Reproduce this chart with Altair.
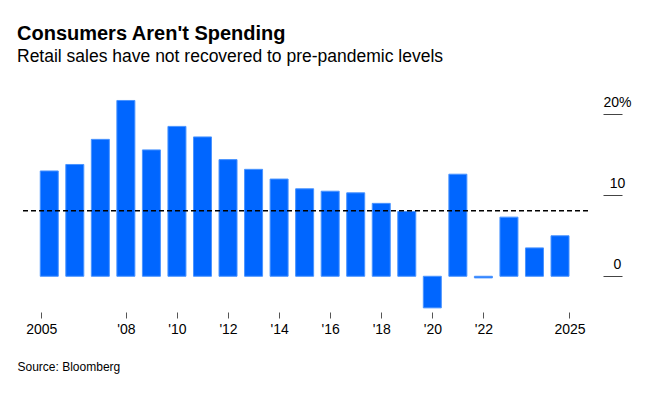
import altair as alt
import pandas as pd

years = list(range(2005, 2026))
values = [13.0, 13.8, 16.9, 21.7, 15.6, 18.5, 17.2, 14.4, 13.2, 12.0, 10.8,
          10.5, 10.3, 9.0, 8.0, -3.9, 12.6, -0.2, 7.3, 3.5, 5.0]
reference_level = [8.1]
x_tick_values = [2004.69, 2008, 2010, 2012, 2014, 2016, 2018, 2020, 2022, 2025.37]
y_tick_values = [0, 10, 20]

title_text = "Consumers Aren't Spending"
subtitle_text = "Retail sales have not recovered to pre-pandemic levels"
source_text = "Source: Bloomberg"

FONT = "Liberation Sans"

df = pd.DataFrame({"year": years, "value": values})
ref_df = pd.DataFrame({"level": reference_level})

x_enc = alt.X(
    "year:Q",
    scale=alt.Scale(domain=[2004.05, 2025.9], nice=False, zero=False),
    axis=alt.Axis(
        values=x_tick_values,
        labelExpr="datum.value < 2006 ? '2005' : (datum.value > 2024 ? '2025' : \"'\" + format(round(datum.value) - 2000, '02d'))",
        domain=False,
        grid=False,
        tickSize=6,
        tickColor="#555555",
        labelFont=FONT,
        labelFontSize=14,
        labelColor="#000000",
        labelBaseline="alphabetic",
        labelPadding=15,
        labelFlush=False,
        labelOverlap=False,
        title=source_text,
        titleX=-3,
        titleY=58,
        titleAlign="left",
        titleBaseline="alphabetic",
        titleFont=FONT,
        titleFontSize=12,
        titleFontWeight="normal",
        titleColor="#000000",
    ),
)

y_enc = alt.Y(
    "value:Q",
    scale=alt.Scale(domain=[-4.41, 22.5], nice=False),
    axis=alt.Axis(
        orient="right",
        values=y_tick_values,
        labelExpr="datum.value == 20 ? '20%' : datum.label",
        domain=False,
        grid=False,
        offset=15,
        tickSize=19,
        tickColor="#444444",
        labelAlign="center",
        labelPadding=-5,
        labelBaseline="alphabetic",
        labelOffset=-8,
        labelFont=FONT,
        labelFontSize=14,
        labelColor="#000000",
        title=None,
    ),
)

bars = alt.Chart(df).mark_bar(
    size=18, color="#0066ff", stroke="#4a94ff", strokeWidth=1
).encode(x=x_enc, y=y_enc)

rule = alt.Chart(ref_df).mark_rule(
    color="#000000", strokeDash=[5, 3], strokeWidth=1.5
).encode(y=alt.Y("level:Q", title=None))

chart = alt.layer(bars, rule).properties(
    width=568,
    height=218,
    background="#ffffff",
    autosize=alt.AutoSizeParams(type="none"),
    padding={"left": 12, "top": 86, "right": 60, "bottom": 75},
    title=alt.TitleParams(
        text=title_text,
        subtitle=subtitle_text,
        anchor="start",
        frame="group",
        dx=-3,
        offset=29,
        font=FONT,
        fontSize=20,
        fontWeight="bold",
        color="#000000",
        subtitleFont=FONT,
        subtitleFontSize=17.5,
        subtitleColor="#000000",
        subtitlePadding=3.5,
    ),
).configure_view(stroke=None)

chart.save("out.html", embed_options={"renderer": "svg", "actions": False})
